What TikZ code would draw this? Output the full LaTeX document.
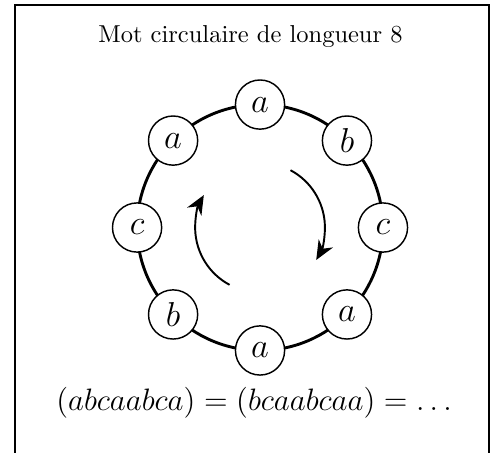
\documentclass[tikz,border=0pt]{standalone}
\usepackage{amsmath,amssymb}
\usepackage{tikz}
\usetikzlibrary{arrows.meta}

\begin{document}
\begin{tikzpicture}[
    font=\normalsize,
    % letters of the circular word
    lettre/.style={circle, draw, semithick, fill=white, minimum size=7.2mm, inner sep=0pt, font=\Large},
    ring/.style={draw, very thick},
    rot/.style={draw, thick, -{Stealth[length=2.8mm, width=2.4mm, inset=0.9mm]}},
    cadre/.style={draw, thick},
]
\useasboundingbox (-3.807,-3.301) rectangle (3.484,3.331);

% frame (its bottom edge falls below the page)
\draw[cadre] (-3.587,-3.7) rectangle (3.353,3.257);

% title
\node[scale=1.02, transform shape] (titre) at (-0.14,2.80) {Mot circulaire de longueur 8};

% =========================================================
% the ring and its eight letters
% =========================================================
\draw[ring] (0,0) circle (1.80);

\node[lettre] (l1) at (90:1.80)  {$a$};
\node[lettre] (l2) at (45:1.80)  {$b$};
\node[lettre] (l3) at (0:1.80)   {$c$};
\node[lettre] (l4) at (-45:1.80) {$a$};
\node[lettre] (l5) at (-90:1.80) {$a$};
\node[lettre] (l6) at (-135:1.80) {$b$};
\node[lettre] (l7) at (180:1.80) {$c$};
\node[lettre] (l8) at (135:1.80) {$a$};

% rotation arrows inside the ring
\draw[rot] (62:0.95) arc[start angle=62, end angle=-30, radius=0.95];
\draw[rot] (242:0.95) arc[start angle=242, end angle=150, radius=0.95];

% =========================================================
% equality of the rotations
% =========================================================
\node[font=\large, scale=1.075, transform shape] (egal) at (-0.05,-2.57) {$(abcaabca) = (bcaabcaa) = \dots$};

\end{tikzpicture}
\end{document}
